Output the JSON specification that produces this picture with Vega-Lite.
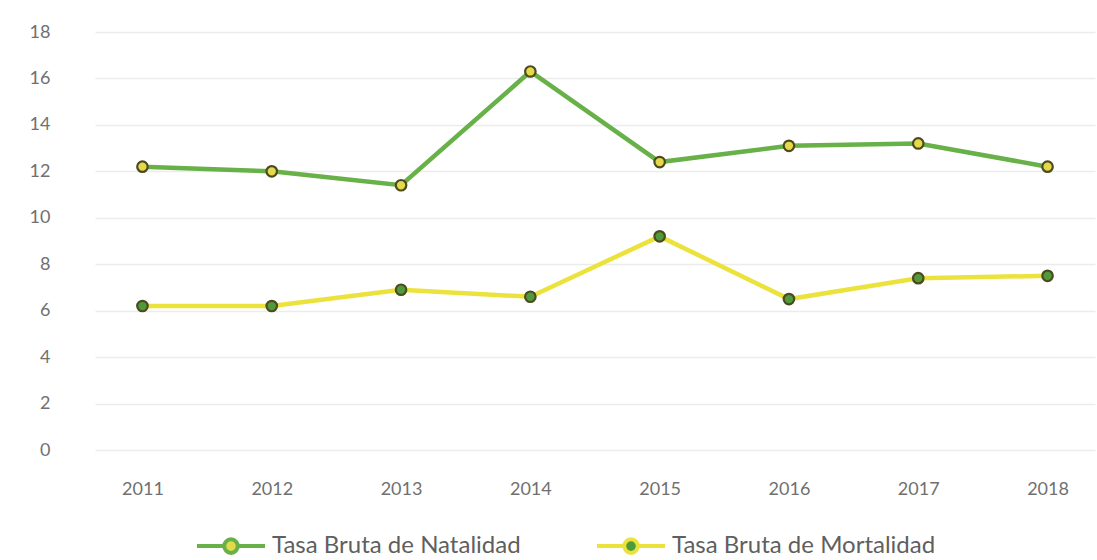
{
  "$schema": "https://vega.github.io/schema/vega-lite/v6.json",
  "autosize": "none",
  "width": 1000,
  "height": 418,
  "padding": {"left": 95, "top": 32, "right": 2, "bottom": 110},
  "background": "white",
  "config": {
    "font": "Lato",
    "view": {"stroke": null},
    "axis": {"labelFont": "Lato", "labelColor": "#707070", "labelFontSize": 18, "domain": false, "ticks": false, "title": null}
  },
  "data": {
    "values": [
      {"year": "2011", "series": "Tasa Bruta de Natalidad", "value": 12.2},
      {"year": "2012", "series": "Tasa Bruta de Natalidad", "value": 12.0},
      {"year": "2013", "series": "Tasa Bruta de Natalidad", "value": 11.4},
      {"year": "2014", "series": "Tasa Bruta de Natalidad", "value": 16.3},
      {"year": "2015", "series": "Tasa Bruta de Natalidad", "value": 12.4},
      {"year": "2016", "series": "Tasa Bruta de Natalidad", "value": 13.1},
      {"year": "2017", "series": "Tasa Bruta de Natalidad", "value": 13.2},
      {"year": "2018", "series": "Tasa Bruta de Natalidad", "value": 12.2},
      {"year": "2011", "series": "Tasa Bruta de Mortalidad", "value": 6.2},
      {"year": "2012", "series": "Tasa Bruta de Mortalidad", "value": 6.2},
      {"year": "2013", "series": "Tasa Bruta de Mortalidad", "value": 6.9},
      {"year": "2014", "series": "Tasa Bruta de Mortalidad", "value": 6.6},
      {"year": "2015", "series": "Tasa Bruta de Mortalidad", "value": 9.2},
      {"year": "2016", "series": "Tasa Bruta de Mortalidad", "value": 6.5},
      {"year": "2017", "series": "Tasa Bruta de Mortalidad", "value": 7.4},
      {"year": "2018", "series": "Tasa Bruta de Mortalidad", "value": 7.5}
    ]
  },
  "encoding": {
    "x": {"field": "year", "type": "ordinal", "scale": {"type": "point", "padding": 0.367},
          "axis": {"labelAngle": 0, "labelPadding": 30, "grid": false}},
    "y": {"field": "value", "type": "quantitative", "scale": {"domain": [0, 18]},
          "axis": {"values": [0, 2, 4, 6, 8, 10, 12, 14, 16, 18], "labelPadding": 45, "gridColor": "#ececec", "gridWidth": 1.5}}
  },
  "layer": [
    {
      "mark": {"type": "line", "strokeWidth": 4.5},
      "encoding": {
        "color": {"field": "series", "type": "nominal",
          "scale": {"domain": ["Tasa Bruta de Natalidad", "Tasa Bruta de Mortalidad"], "range": ["#68b048", "#ece23c"]},
          "legend": {"orient": "none", "legendX": 100, "legendY": 478, "direction": "horizontal", "title": null,
            "labelFont": "Lato", "labelFontSize": 24, "labelColor": "#5f5f5f", "columnPadding": 68, "labelOffset": 5, "labelLimit": 0,
            "symbolType": "M -1 0 L -0.2 0 M 0.2 0 L 1 0 M -0.2 0 A 0.2 0.2 0 1 0 0.2 0 A 0.2 0.2 0 1 0 -0.2 0",
            "symbolSize": 4624, "symbolStrokeWidth": 4,
            "encode": {"symbols": {"update": {"fill": {"signal": "datum.value == 'Tasa Bruta de Natalidad' ? '#e3d94b' : '#4f9a3a'"}}}}}
        }
      }
    },
    {
      "mark": {"type": "point", "filled": true, "size": 110, "stroke": "#4d4a1e", "strokeWidth": 2.2, "opacity": 1},
      "encoding": {
        "fill": {"field": "series", "type": "nominal",
          "scale": {"domain": ["Tasa Bruta de Natalidad", "Tasa Bruta de Mortalidad"], "range": ["#e3d94b", "#4f9a3a"]},
          "legend": null}
      }
    }
  ]
}
